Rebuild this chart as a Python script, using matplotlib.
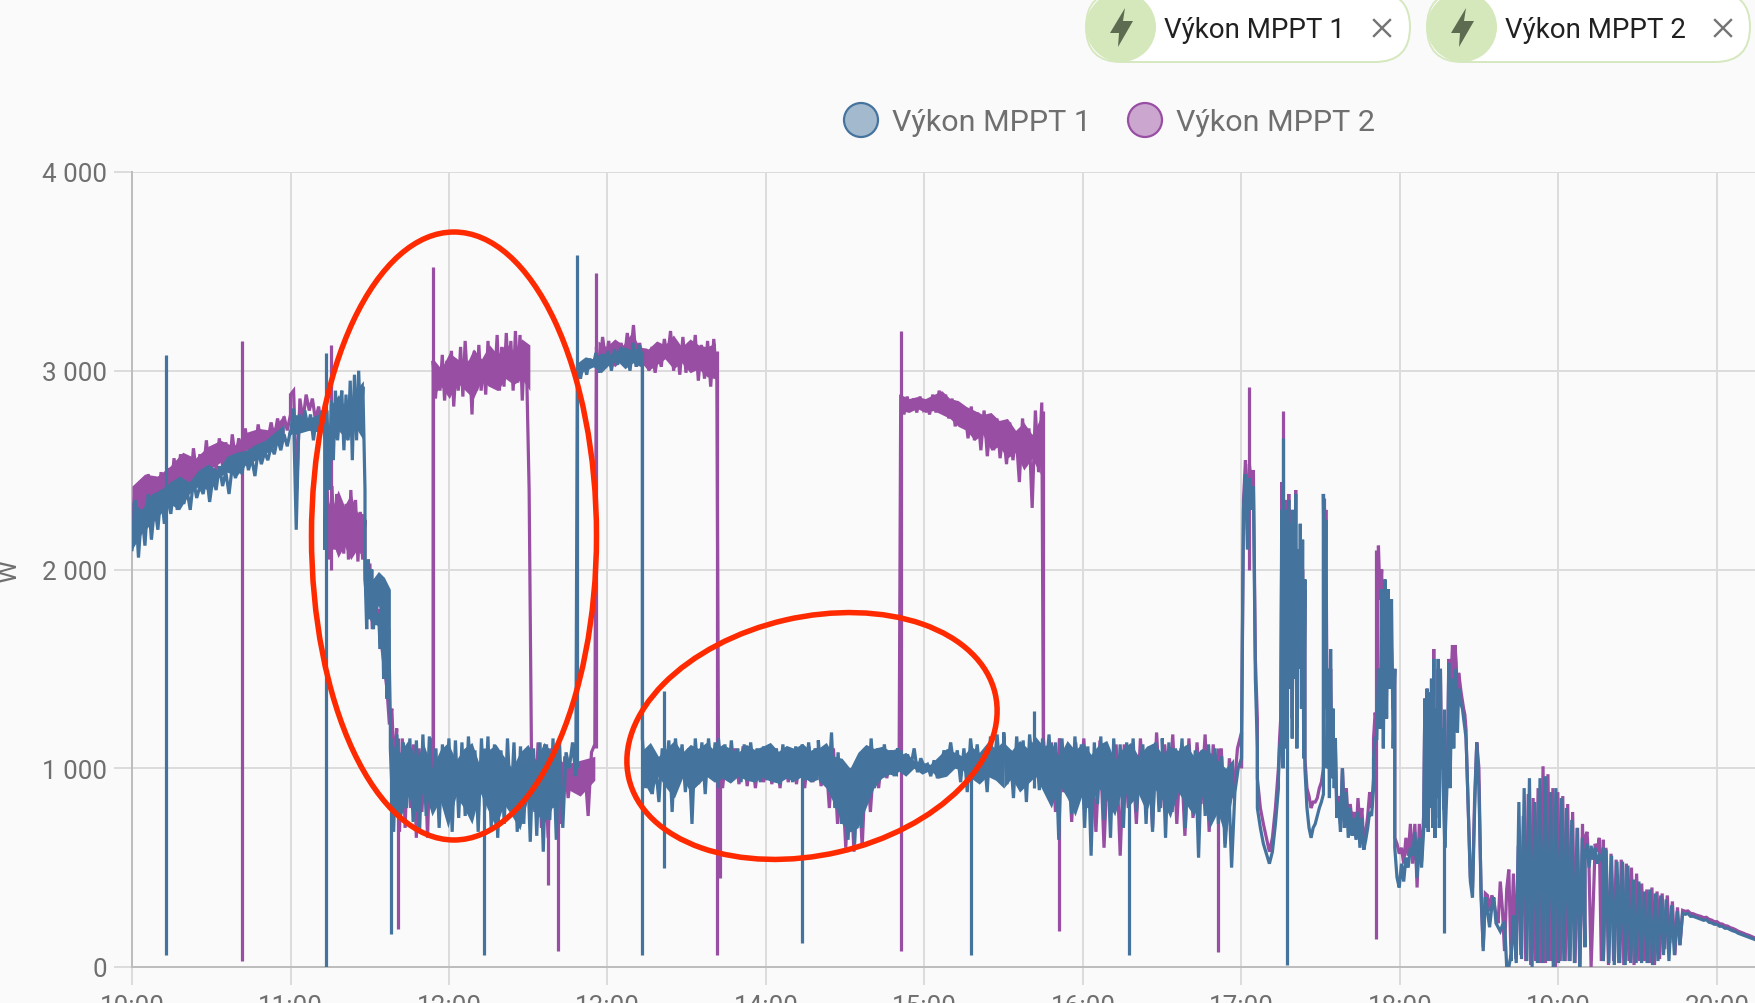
import numpy as np
import matplotlib
matplotlib.use("Agg")
import matplotlib.pyplot as plt
from matplotlib.patches import Ellipse, FancyBboxPatch, Circle, Polygon

# ---------- data: watts per section, (start hour, end hour) given in the *_spans lists ----------
hour_ticks = [10, 11, 12, 13, 14, 15, 16, 17, 18, 19, 20]
hour_labels = ["10:00", "11:00", "12:00", "13:00", "14:00", "15:00", "16:00", "17:00", "18:00", "19:00", "20:00"]
watt_ticks = [0, 1000, 2000, 3000, 4000]
watt_labels = ["0", "1 000", "2 000", "3 000", "4 000"]
series_names = ["Výkon MPPT 1", "Výkon MPPT 2"]

b01 = [2100,2350,2060,2300,2120,2380,2150,2320,2200,2400,2230,2360,2280,2430,2300,2440,2330,2400,2300,2450,2360,2420,2380,2480,2340,2460,2400,2520,2420,2490,2380,2520,2460,2540,2480,2590,2500,2560,2470,2600,2530,2590,2550,2620,2580,2660,2600,2680,2620,2700]
b02 = [2680,2810,2200,2780,2700,2800,2720,2780,2650,2760,2700,2800,2650]
b03 = [2100,2800,2400,2850,2550,2900,2650,2780,2900,2600,2880,2650,2950,2550,2980,2650,3000,2700,2920,2400]
b04 = [2000,1700,2050,1750,2000,1700,1950,1720,1780,1600,1960,1450,1900,1350,1700,1250]
b05 = [1100,680,1170,740,1130,800,1150,730,1140,690,1170,760,1160,820,1100,700,1120,820,1150,680,1140,750,1130,760,1160,850,1090,680,1150,790,1160,700,1120,650,1090,720,1150,800,1130,680,1110,720,1090,630,1100,660,1130,580,1120,740,1150,640,1130,700,1080,1000,1130,960]
b06 = [3020,2960,3050,2980,3060,3020,3090,2990,3080,3040,3100,3000,3110,3030,3120,3060,3100,3000,3140,3020,3130,3050]
b07 = [1150,900,1080,870,1020,830,1100,950,1140,780,1150,960,1120,880,1100,720,1150,920,1130,870,1150,950,1130,900]
b08 = [1150,980,1120,940,1140,960,1100,930,1120,950,1130,980,1100,930,1110,940,1120,990,1100,920,1120,950,1100,930,1110,960,1120,940,1130,950,1100,960]
b09 = [1140,950,1100,900,1180,800,1080,720,1000,640,950,620,1050,700,1100,840,1150,900,1100,970,1120,980,1090,960,1100]
b10 = [980,1090,1000,1070,1010,1100,980,1050,1010,1020,960,1040,950,1000,1090,1010,1130,1010,1090,930,1100,880,1150,990,1120,950,1080,880,1160,1000,1170,940,1100]
b11 = [1180,920,1090,850,1160,950,1140,830,1170,990,1110,890,1150,960,1170,870,1130,640,1150,880,1120,770,1160,900,1120,700,1110,560,1130,820,1160,740,1090,650,1150,810,1120,700,1130,880,1150,780,1010,1120,720,1110,680,1130,780,1090]
b12 = [1150,650,1130,780,1100,900,1150,700,1120,820,1090,550,1090,760,1120,870,1100,720,1060,600,980,500,880,1000,1050]
b13 = [1150,2300,2480,2100,2460,2300,2420,1450,1100]
b14 = [800,700,620,570,520,580,720,900]
b15 = [950,1100,1150,2300,1000,2250,1100,2300,1900,2350,1400,2230,1150,2300,1450,2380,1100,2100,1500,2230,1300,2150,1050,1950]
b16 = [1000,800,700,650,700,720,760,800,830,870]
b17 = [2380,1500,2250,1000,1500,850,1600,950,1300,900,1150,800]
b18 = [750,830,680,1000,700,880,650,800,660,750,640,780,600,750,590,640,700,780,760,900]
b19 = [1050,1150,1150,1500,1200,1900,1100,1950,1250,1900,1400,1850,1100,1500]
b20 = [600,450,400,520,430,550,500,600,560,680,450,650,500,700]
b21 = [800,1350,700,1400,680,1380,800,1450,700,1550,650,1300,850,1550,700,1500,1000,1200,800,600]
b22 = [1000,1530,900,1250,1450,1100,1420,1500,1180,1400,1380,1320,1300,1250,1200,1150]
b23 = [1150,800,430,350,800,1130,900,400,80,350,280,200,300,350,220,200,180,210,230,0,0,60]
b24 = [30,260,20,830,40,900,30,950,0,830,20,950,20,960,30,880,0,900,20,850,30,800,30,740,20,700,0,650,100]
b25 = [560,620,500,610,540,600,520,560,540,600]
b26 = [30,590,20,560,10,530,20,530,10,510,20,440,20,430,20,380,20,390,10,370,30,360,60,340,30,310,60,280,110,270]
b27 = [270,265,270,255,255,250,245,240,235,238,225,222,215,215,205,205,195,195,188,182,178,170,165,160,155,150,145,140,135]

p01 = [2200,2420,2230,2440,2280,2480,2330,2450,2320,2490,2350,2510,2380,2560,2400,2580,2430,2540,2420,2610,2470,2580,2480,2650,2450,2620,2500,2660,2520,2640,2490,2680,2550,2660,2580,2710,2600,2680,2590,2730,2620,2700,2650,2740,2660,2760,2680,2770,2700,2780]
p02 = [2880,2900,2400,2860,2750,2880,2800,2860,2750,2820,2700,2780]
p03 = [2100,2400,2050,2420,2100,2380,2100,2300,2080,2330,2050,2400,2100,2350,2040,2290,2050,2250]
p04 = [1950,1800,2030,1700,1950,1760,1800,1600,1500,1400,1220,1300,1000,1200]
p05 = [1100,680,1150,700,1100,800,1120,650,1100,780,1080,650,1150,1000]
p06 = [3050,2860,3010,2900,3080,2850,3050,2930,3100,2820,3020,2900,3120,2870,3150,2950,3050,2780,3100,2900,3130,2900,3050,2880,3150,2920,3100,2960,3180,2900,3120,2920,3190,2960,3150,2900,3200,2940,3180,2850,3120,2950,2400,1100]
p07 = [1100,780,1130,700,1120,650,1100,800,1050,720,1060,850,1000,900,960,880,1000,760,1080,1120]
p08 = [3120,3000,3170,3050,3150,3020,3130,3070,3140,3050,3190,3060,3230,3020,3140,3040,3110,3000,3120,2990,3090,3020,3160,3060,3200,3000,3140,2980,3170,2990,3140,3000,3180,2950,3130,2960,3150,2920,3160,2950]
p09 = [1120,900,1100,940,1100,920,1110,910,1100,900,1090,930,1110,920,1090,900,1100,930,1090,920,1080,900,1110,930,1100,910,1100,800,1100,720,1000,600,1000,580,1050,600,1100,780,1080,900,1100,950,1090,980,1050]
p10 = [2880,2780,2870,2800,2860,2790,2870,2810,2850,2780,2880,2790,2900,2790,2880,2760,2860,2720,2830,2750,2800,2660,2820,2650,2790,2600,2800,2570,2730,2600,2760,2560,2700,2530,2740,2550,2680,2440,2760,2520,2710,2310,2800,2490,2840]
p11 = [1150,900,1130,780,1150,880,1120,730,1130,860,1150,800,1050,680,1140,600,1100,780,1120,560,1120,800,1080,720,1150,830,1090,700,1180,800,1120,860,1170,720,1100,660,1150,750,1130,820,1170,680,1120,850,1100,620,1050,850,1100,1180]
p12 = [1000,2350,2550,2200,2530,2420,2500,1550,1250]
p13 = [950,800,720,650,580,650,800,1000]
p14 = [1000,1150,1250,2440,1100,2300,1200,2350,2000,2380,1500,2300,1250,2250,1500,2400,1200,2050,1500,2020,1500,2000,1300,1900]
p15 = [1050,900,860,800,830,830,850,900,930,1000]
p16 = [2380,1550,2300,1300,1500,1000,1500,1000,1200,1000,1100,850]
p17 = [780,860,720,1000,760,900,700,820,730,780,650,850,700,800,620,680,760,880,800,950]
p18 = [1150,1280,1200,2120,1850,2000,1300,1900,1450,1850,1500,1600,1300,1500]
p19 = [650,620,570,600,520,650,560,720,520,720,400,720,530,780]
p20 = [800,1350,750,1400,700,1380,800,1450,700,1600,650,1300,850,1500,750,1500,1000,1200,800,800]
p21 = [1050,1550,950,1480,1620,1350,1620,1530,1300,1480,1430,1380,1340,1300,1270,1190]
p22 = [1150,800,450,400,850,1130,1000,350,100,370,360,280,360,330,260,220,430,290,80,390,490,80]
p23 = [60,470,40,610,60,760,30,870,10,850,30,900,20,1010,20,970,30,900,0,880,30,860,30,820,30,780,20,700,0,720,100]
p24 = [650,680,500,0,300,620,580,650,30,640]
p25 = [30,600,10,570,30,540,20,540,10,520,30,500,10,470,30,420,30,390,20,400,10,380,40,370,90,360,120,330,60,300,110,285]
p26 = [285,280,282,270,268,262,258,254,248,250,240,236,228,228,218,216,208,206,198,194,188,180,175,170,164,160,154,148,142]

mppt1_spans = [(10.0,11.0,b01),(11.0,11.217,b02),(11.217,11.47,b03),(11.47,11.63,b04),(11.63,12.8,b05),(12.81,13.22,b06),(13.22,13.7,b07),(13.7,14.33,b08),(14.33,14.83,b09),(14.83,15.5,b10),(15.5,16.5,b11),(16.5,17.0,b12),(17.0,17.1,b13),(17.1,17.233,b14),(17.233,17.4,b15),(17.4,17.517,b16),(17.517,17.6,b17),(17.6,17.833,b18),(17.833,17.967,b19),(17.967,18.15,b20),(18.15,18.283,b21),(18.3,18.417,b22),(18.417,18.7,b23),(18.7,19.167,b24),(19.167,19.283,b25),(19.283,19.783,b26),(19.783,20.25,b27)]
mppt2_spans = [(10.0,11.0,p01),(11.0,11.217,p02),(11.217,11.47,p03),(11.47,11.67,p04),(11.67,11.9,p05),(11.9,12.52,p06),(12.52,12.92,p07),(12.93,13.69,p08),(13.7,14.84,p09),(14.85,15.74,p10),(15.75,17.0,p11),(17.0,17.1,p12),(17.1,17.233,p13),(17.233,17.4,p14),(17.4,17.517,p15),(17.517,17.6,p16),(17.6,17.833,p17),(17.833,17.967,p18),(17.967,18.15,p19),(18.15,18.283,p20),(18.3,18.417,p21),(18.417,18.7,p22),(18.7,19.167,p23),(19.167,19.283,p24),(19.283,19.783,p25),(19.783,20.25,p26)]

mppt1_spike_h = [10.212,11.223,11.632,12.22,12.807,13.216,13.357,14.227,15.294,15.69,16.29,17.26,17.29,18.28]
mppt1_spike_lo = [60,0,165,60,1000,60,500,120,60,900,60,1500,10,170]
mppt1_spike_hi = [3080,3090,1150,1100,3580,3100,1390,1100,1100,1290,1100,2660,2300,1300]
mppt2_spike_h = [10.693,11.256,11.68,11.9,12.625,12.69,12.93,13.69,13.71,14.85,15.745,15.85,16.85,17.05,17.26,17.52,17.85]
mppt2_spike_lo = [30,2000,190,1000,415,80,1100,60,450,80,1000,180,75,2000,1500,1500,140]
mppt2_spike_hi = [3150,3130,1150,3520,1100,1100,3490,3100,1100,3200,2800,1150,1100,2920,2800,2360,2100]

# solid middle of the noisy stretches: start hour, end hour, lower edge, upper edge
b_band1_lo = [2100,2180,2230,2280,2330,2300,2380,2420,2400,2460,2490,2470,2530,2550,2580,2620,2650]
b_band1_hi = [2340,2300,2380,2400,2440,2470,2440,2500,2530,2500,2570,2590,2600,2630,2650,2690,2730]
b_band2_lo = [2680,2700,2690]
b_band2_hi = [2780,2760,2790]
b_band3_lo = [2600,2700,2650,2720,2650]
b_band3_hi = [2820,2880,2800,2900,2950]
b_band4_lo = [1780,1720,1820,1700,1500]
b_band4_hi = [2000,1950,1990,1960,1900]
b_band5_lo = [820,740,860,780,900,760,840,700,860,800,720,880,790,700,820,760,690,850,780,720,800,850]
b_band5_hi = [1120,1080,1140,1050,1120,1000,1090,1130,1040,1100,1130,1010,1090,1120,1060,1000,1080,1120,1040,1130,1080,1120]
b_band6_lo = [2980,3000,3020,2990,3030,3050,3010,3040,3020]
b_band6_hi = [3040,3070,3060,3090,3080,3100,3120,3100,3130]
b_band7_lo = [940,870,960,900,850,950,880,920,960,930,950,925,960,940,930,955,935,925,950,935,960,930,945]
b_band7_hi = [1090,1130,1060,1100,1140,1080,1120,1100,1130,1090,1120,1100,1080,1120,1095,1110,1130,1085,1115,1100,1125,1090,1110]
b_band8_lo = [940,900,820,720,680,700,800,900,950,970,960]
b_band8_hi = [1100,1130,1060,1050,1000,1080,1120,1100,1110,1090,1100]
b_band9_lo = [990,960,1000,970,990,950,960,1000,990,950,920,960,940,900]
b_band9_hi = [1060,1080,1040,1030,1020,1060,1100,1080,1060,1110,1080,1130,1100,1140]
b_band10_lo = [900,950,880,920,960,880,800,920,850,760,880,820,900,840,760,900,820,870,780,900,840,750,880,820,760,860,700,780,650,900]
b_band10_hi = [1130,1090,1140,1100,1160,1110,1130,1060,1140,1090,1130,1070,1120,1140,1040,1100,1130,1060,1110,1130,1070,1110,1090,1120,1060,1100,1080,1040,1000,1050]

p_band1_lo = [2200,2280,2330,2380,2420,2470,2500,2540,2560,2600,2620,2650,2680]
p_band1_hi = [2420,2480,2470,2520,2590,2560,2620,2650,2620,2690,2710,2700,2780]
p_band2_lo = [2080,2150,2060,2120,2050,2100,2060]
p_band2_hi = [2380,2300,2400,2320,2380,2290,2280]
p_band3_lo = [2880,2920,2860,2940,2900,2860,2950,2920,2900,2960,2930,2960,2900]
p_band3_hi = [3060,3010,3090,3060,3020,3110,3060,3130,3080,3140,3100,3160,3130]
p_band4_lo = [880,820,900,860,940]
p_band4_hi = [1040,1080,1020,1040,1060]
p_band5_lo = [3040,3070,3020,3060,3040,3050,3000,3030,3060,3010,3040,2990,3010,2970,2960]
p_band5_hi = [3150,3120,3160,3130,3190,3120,3110,3150,3130,3180,3120,3160,3130,3120,3140]
p_band6_lo = [2800,2790,2810,2790,2800,2780,2760,2720,2700,2650,2680,2600,2620,2560,2590,2500,2560,2480]
p_band6_hi = [2880,2860,2870,2860,2880,2900,2860,2850,2820,2800,2780,2790,2750,2760,2700,2740,2680,2760]

blue_bands = [(10.0,10.96,b_band1_lo,b_band1_hi),(11.03,11.2,b_band2_lo,b_band2_hi),(11.25,11.46,b_band3_lo,b_band3_hi),(11.48,11.63,b_band4_lo,b_band4_hi),(11.64,12.7,b_band5_lo,b_band5_hi),(12.81,13.21,b_band6_lo,b_band6_hi),(13.22,14.33,b_band7_lo,b_band7_hi),(14.33,14.83,b_band8_lo,b_band8_hi),(14.83,15.5,b_band9_lo,b_band9_hi),(15.5,16.95,b_band10_lo,b_band10_hi)]
purple_bands = [(10.0,10.96,p_band1_lo,p_band1_hi),(11.22,11.46,p_band2_lo,p_band2_hi),(11.9,12.51,p_band3_lo,p_band3_hi),(12.55,12.92,p_band4_lo,p_band4_hi),(12.94,13.68,p_band5_lo,p_band5_hi),(14.85,15.73,p_band6_lo,p_band6_hi)]

# ---------- style ----------
W, H = 1756, 1004
BG = "#fafafa"
BLUE = "#44739e"
PURPLE = "#984ea3"
GRID = "#dcdcdc"
AXIS = "#bdbdbd"
GRAY = "#6f6f6f"
FONT = "Roboto"
px = 0.72  # one pixel in points at dpi 100


def section_lines(spans):
    hours, watts = [], []
    for start, end, values in spans:
        hours.extend(np.linspace(start, end, len(values)))
        watts.extend(values)
    return np.array(hours), np.array(watts)


fig = plt.figure(figsize=(W / 100, H / 100), dpi=100, facecolor=BG)
LEFT, RIGHT, TOP, BOTTOM = 132, 1756, 173, 968
ax = fig.add_axes([LEFT / W, 1 - BOTTOM / H, (RIGHT - LEFT) / W, (BOTTOM - TOP) / H], facecolor=BG)
ax.set_xlim(10, 10 + (RIGHT - LEFT) / 158.5)
ax.set_ylim(0, 4000)

ax.set_xticks(hour_ticks, hour_labels)
ax.set_yticks(watt_ticks, watt_labels)
ax.grid(True, color=GRID, lw=2 * px, zorder=0)
ax.set_axisbelow(True)
for side in ("top", "right"):
    ax.spines[side].set_visible(False)
for side in ("left", "bottom"):
    ax.spines[side].set_color(AXIS)
    ax.spines[side].set_linewidth(2 * px)
ax.tick_params(axis="both", length=18 * px, width=2 * px, color=GRID, labelcolor=GRAY, labelsize=26 * px)
ax.tick_params(axis="y", pad=7 * px)
ax.tick_params(axis="x", pad=9 * px)
for lab in ax.get_xticklabels() + ax.get_yticklabels():
    lab.set_fontfamily(FONT)

for spans, sh, lo, hi, bands, col, z in (
    (mppt2_spans, mppt2_spike_h, mppt2_spike_lo, mppt2_spike_hi, purple_bands, PURPLE, 3),
    (mppt1_spans, mppt1_spike_h, mppt1_spike_lo, mppt1_spike_hi, blue_bands, BLUE, 4),
):
    hours, watts = section_lines(spans)
    ax.plot(hours, watts, color=col, lw=3.2 * px, solid_joinstyle="miter", zorder=z)
    ax.vlines(sh, lo, hi, color=col, lw=3.2 * px, zorder=z)
    for start, end, blo, bhi in bands:
        ax.fill_between(np.linspace(start, end, len(blo)), blo, bhi, color=col, lw=0, zorder=z)

# ---------- page furniture, in pixels of the picture ----------
ov = fig.add_axes([0, 0, 1, 1], facecolor="none")
ov.set_xlim(0, W)
ov.set_ylim(H, 0)
ov.axis("off")

ov.text(9, 571, "W", rotation=90, ha="center", va="center", color=GRAY, fontsize=26 * px, family=FONT)

# selected-entity chips
for left, right, name in ((1086, 1410, series_names[0]), (1427, 1750, series_names[1])):
    ov.add_patch(FancyBboxPatch((left, -7), right - left, 70, boxstyle="round,pad=0,rounding_size=35",
                                fc="white", ec="#d6e8bf", lw=2 * px, clip_on=True))
    ov.add_patch(Circle((left + 35, 28), 35, fc="#d4e8bb", ec="none"))
    cx = left + 35
    ov.add_patch(Polygon([(cx + 4, 9), (cx - 11, 34), (cx - 2, 34), (cx - 3, 48), (cx + 12, 22), (cx + 2, 22)],
                         closed=True, fc="#5d6b50", ec="none"))
    ov.text(left + 78, 30, name, ha="left", va="center", color="#212121", fontsize=27.7 * px, family=FONT)
    xc = left + 296
    ov.plot([xc - 8, xc + 8], [21, 37], color="#757575", lw=2.4 * px)
    ov.plot([xc - 8, xc + 8], [37, 21], color="#757575", lw=2.4 * px)

# legend
for cx, tx, name, fc, ec in ((861, 892, series_names[0], "#a2b9ce", BLUE), (1145, 1176, series_names[1], "#cba6cf", PURPLE)):
    ov.add_patch(Circle((cx, 121), 17, fc=fc, ec=ec, lw=2.2 * px))
    ov.text(tx, 123, name, ha="left", va="center", color=GRAY, fontsize=30.5 * px, family=FONT)

# hand-drawn red ellipses
ov.add_patch(Ellipse((454, 537), 285, 608, fc="none", ec="#ff2a00", lw=5.5 * px, zorder=10))
ov.add_patch(Ellipse((812, 737), 376, 238, angle=-13, fc="none", ec="#ff2a00", lw=5.5 * px, zorder=10))

fig.savefig("out.png", dpi=100, facecolor=BG)
